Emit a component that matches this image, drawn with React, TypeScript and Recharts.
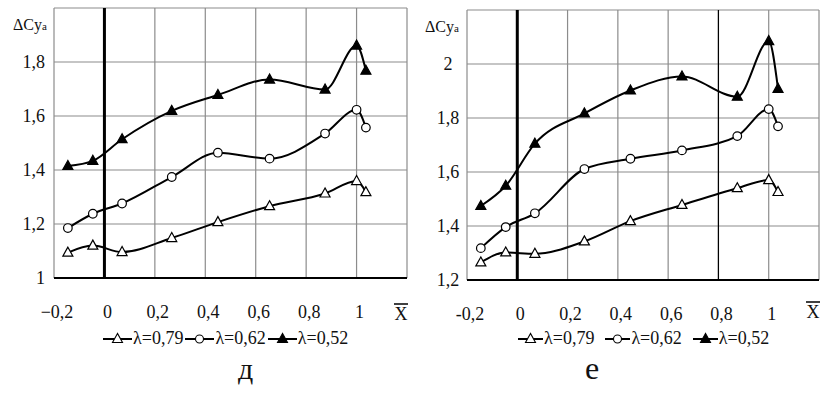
import React from 'react'
import { LineChart, Line, XAxis, YAxis, CartesianGrid, ReferenceLine } from 'recharts'

// relative x positions (shared by both panels)
const xPos = [-0.145, -0.046, 0.07, 0.267, 0.45, 0.655, 0.875, 1.0, 1.037]

// panel "д"
const dL79 = [1.094, 1.12, 1.096, 1.148, 1.207, 1.266, 1.313, 1.359, 1.318]
const dL62 = [1.185, 1.238, 1.276, 1.374, 1.464, 1.442, 1.535, 1.623, 1.557]
const dL52 = [1.415, 1.434, 1.514, 1.619, 1.678, 1.735, 1.698, 1.861, 1.768]

// panel "е"
const eL79 = [1.265, 1.302, 1.297, 1.343, 1.418, 1.478, 1.54, 1.57, 1.526]
const eL62 = [1.318, 1.396, 1.447, 1.611, 1.649, 1.68, 1.733, 1.833, 1.769]
const eL52 = [1.474, 1.549, 1.705, 1.817, 1.902, 1.954, 1.879, 2.085, 1.908]

const xTicks = [-0.2, 0, 0.2, 0.4, 0.6, 0.8, 1, 1.2]
const dYTicks = [1, 1.2, 1.4, 1.6, 1.8, 2]
const eYTicks = [1.2, 1.4, 1.6, 1.8, 2, 2.2]

const seriesNames = ['λ=0,79', 'λ=0,62', 'λ=0,52']

const FONT = "'Liberation Serif', Tinos, 'Times New Roman', Times, 'DejaVu Serif', serif"
const GRID = '#8c8c8c'

const fmt = (v: number) => String(Math.round(v * 10) / 10).replace('.', ',')

const buildRows = (a: number[], b: number[], c: number[]) =>
  xPos.map((x, i) => ({ x, l79: a[i], l62: b[i], l52: c[i] }))

const dRows = buildRows(dL79, dL62, dL52)
const eRows = buildRows(eL79, eL62, eL52)

const makeDot = (kind: 'open' | 'circle' | 'filled') => (props: any) => {
  const { cx, cy, index } = props
  if (cx == null || cy == null) return <g key={index} />
  if (kind === 'circle') {
    return <circle key={index} cx={cx} cy={cy} r={4.3} fill="#fff" stroke="#000" strokeWidth={1.2} />
  }
  const pts = `${cx},${cy - 5.5} ${cx - 5},${cy + 3.5} ${cx + 5},${cy + 3.5}`
  return (
    <polygon
      key={index}
      points={pts}
      fill={kind === 'filled' ? '#000' : '#fff'}
      stroke="#000"
      strokeWidth={1.2}
    />
  )
}

const LegendMark = ({ kind, w }: { kind: 'open' | 'circle' | 'filled'; w: number }) => {
  const c = w / 2
  return (
    <svg width={w} height={14} style={{ display: 'block' }}>
      <line x1={0} y1={7} x2={w} y2={7} stroke="#000" strokeWidth={2} />
      {kind === 'circle' ? (
        <circle cx={c} cy={7} r={4} fill="#fff" stroke="#000" strokeWidth={1.1} />
      ) : (
        <polygon
          points={`${c},${1.5} ${c - 5},${10.5} ${c + 5},${10.5}`}
          fill={kind === 'filled' ? '#000' : '#fff'}
          stroke="#000"
          strokeWidth={1.1}
        />
      )}
    </svg>
  )
}

interface PanelProps {
  rows: { x: number; l79: number; l62: number; l52: number }[]
  yTicks: number[]
  left: number
  width: number
  margin: { top: number; right: number; bottom: number; left: number }
  yLabelAnchor: 'end' | 'middle'
  yLabelDx: number
  minus: string
  xbarDy: number
  blackLine08?: boolean
}

const Panel = ({ rows, yTicks, left, width, margin, yLabelAnchor, yLabelDx, minus, xbarDy, blackLine08 }: PanelProps) => {
  const topVal = yTicks[yTicks.length - 1]

  const YTick = (p: any) => {
    const v = p.payload.value
    if (v === topVal) return <g />
    return (
      <text x={p.x - yLabelDx} y={p.y + 6} textAnchor={yLabelAnchor} fontSize={18} style={{ fontFamily: FONT }} fill="#111">
        {fmt(v)}
      </text>
    )
  }

  const XTick = (p: any) => {
    const v = p.payload.value
    if (v > 1.1) {
      return (
        <g>
          <line x1={p.x - 13} x2={p.x + 1} y1={p.y + 26 + xbarDy} y2={p.y + 26 + xbarDy} stroke="#000" strokeWidth={1.5} />
          <text x={p.x - 6} y={p.y + 42 + xbarDy} textAnchor="middle" fontSize={18} style={{ fontFamily: FONT }} fill="#111">
            X
          </text>
        </g>
      )
    }
    const s = fmt(v).replace('-', minus)
    return (
      <text x={p.x + 3} y={p.y + 40} textAnchor="middle" fontSize={18} style={{ fontFamily: FONT }} fill="#111">
        {s}
      </text>
    )
  }

  return (
    <div style={{ position: 'absolute', left, top: 0 }}>
      <LineChart width={width} height={394} data={rows} margin={margin}>
        <CartesianGrid stroke={GRID} strokeWidth={1.2} />
        <XAxis
          type="number"
          dataKey="x"
          domain={[-0.2, 1.2]}
          ticks={xTicks}
          height={40}
          tickSize={0}
          tickMargin={0}
          tickLine={false}
          axisLine={{ stroke: '#000', strokeWidth: 2.2 }}
          tick={XTick}
          interval={0}
        />
        <YAxis
          type="number"
          domain={[yTicks[0], topVal]}
          ticks={yTicks}
          width={40}
          tickSize={0}
          tickMargin={0}
          tickLine={false}
          axisLine={false}
          tick={YTick}
          interval={0}
        />
        {blackLine08 && <ReferenceLine x={0.8} stroke="#000" strokeWidth={1.2} />}
        <ReferenceLine x={0} stroke="#000" strokeWidth={3} />
        <Line type="monotone" dataKey="l79" stroke="#000" strokeWidth={2} dot={makeDot('open')} isAnimationActive={false} />
        <Line type="monotone" dataKey="l62" stroke="#000" strokeWidth={2} dot={makeDot('circle')} isAnimationActive={false} />
        <Line type="monotone" dataKey="l52" stroke="#000" strokeWidth={2} dot={makeDot('filled')} isAnimationActive={false} />
      </LineChart>
    </div>
  )
}

const Legend = ({ left, gap, markW }: { left: number; gap: number; markW: number }) => {
  const kinds: ('open' | 'circle' | 'filled')[] = ['open', 'circle', 'filled']
  return (
    <div
      style={{
        position: 'absolute',
        left,
        top: 328,
        display: 'flex',
        alignItems: 'center',
        fontFamily: FONT,
        fontSize: 18,
        color: '#111',
        whiteSpace: 'nowrap',
      }}
    >
      {kinds.map((k, i) => (
        <div key={k} style={{ display: 'flex', alignItems: 'center', marginRight: gap }}>
          <LegendMark kind={k} w={markW} />
          <span style={{ marginLeft: 1 }}>{seriesNames[i]}</span>
        </div>
      ))}
    </div>
  )
}

const AxisTitle = ({ left, top }: { left: number; top: number }) => (
  <div style={{ position: 'absolute', left, top, fontFamily: FONT, fontSize: 16, color: '#111', whiteSpace: 'nowrap' }}>
    ΔCy<span style={{ fontSize: 11 }}>a</span>
  </div>
)

export default function App() {
  return (
    <div style={{ position: 'absolute', left: 0, top: 0, width: 823, height: 394, background: '#fff' }}>
      <Panel
        rows={dRows}
        yTicks={dYTicks}
        left={0}
        width={420}
        margin={{ top: 8, right: 13, bottom: 76, left: 14 }}
        yLabelAnchor="end"
        yLabelDx={9}
        minus="−"
        xbarDy={0}
      />
      <Panel
        rows={eRows}
        yTicks={eYTicks}
        left={411}
        width={412}
        margin={{ top: 10, right: 4, bottom: 74, left: 16 }}
        yLabelAnchor="middle"
        yLabelDx={19}
        minus="-"
        xbarDy={-4}
        blackLine08
      />
      <AxisTitle left={13} top={16} />
      <AxisTitle left={425} top={18} />
      <Legend left={103} gap={2} markW={29} />
      <Legend left={518} gap={11} markW={25} />
      <div style={{ position: 'absolute', left: 238, top: 352, fontFamily: FONT, fontSize: 30, color: '#111' }}>д</div>
      <div style={{ position: 'absolute', left: 585, top: 350, fontFamily: FONT, fontSize: 32, color: '#111' }}>е</div>
    </div>
  )
}
